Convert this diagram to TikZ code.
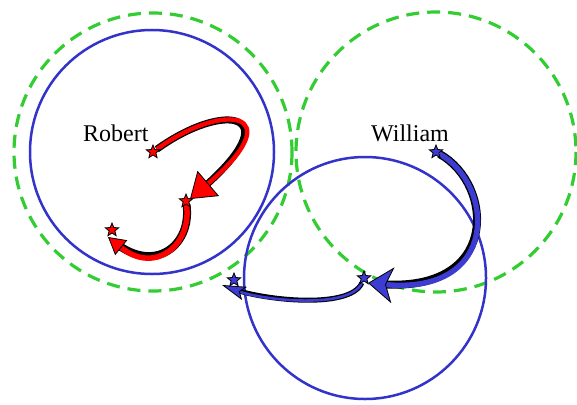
\documentclass[tikz,border=0pt]{standalone}
\usepackage{fontspec}
\setmainfont{Liberation Serif}
\usetikzlibrary{shapes.geometric,arrows.meta}
\definecolor{cgreen}{RGB}{51,204,51}
\definecolor{cblue}{RGB}{51,51,204}
\definecolor{fblue}{RGB}{60,60,210}
\tikzset{
  gcirc/.style={draw=cgreen, line width=3.2pt, dash pattern=on 13pt off 8pt},
  bcirc/.style={draw=cblue, line width=2.5pt},
  starmark/.style={star, star points=5, star point ratio=2.3, minimum size=14pt, inner sep=0pt, draw=black, line width=0.8pt},
  rstar/.style={starmark, fill=red},
  bstar/.style={starmark, fill=fblue},
  lbl/.style={font=\fontsize{24}{27}\selectfont, inner sep=0pt},
  outl/.style={draw=black, line cap=butt},
}
\begin{document}
\begin{tikzpicture}[x=1pt,y=-1pt]
\useasboundingbox (0,0) rectangle (577,404);
% circles
\draw[gcirc] (153,152) circle[radius=139];
\draw[gcirc] (436,152) circle[radius=140];
\draw[bcirc] (152,152) circle[radius=122];
\draw[bcirc] (365,278) circle[radius=121];
% arrow tip points
\coordinate (tR2) at (190,199);
\coordinate (tR3) at (108,237);
\coordinate (tW2) at (368,283);
\coordinate (tW3) at (222,285);
% star positions (named first, drawn later on top)
\path (153,152) node[starmark, draw=none, fill=none] (R1) {}
      (186,201) node[starmark, draw=none, fill=none] (R2) {}
      (112,230) node[starmark, draw=none, fill=none] (R3) {}
      (436,152) node[starmark, draw=none, fill=none] (W1) {}
      (364,278) node[starmark, draw=none, fill=none] (W2) {}
      (234,280) node[starmark, draw=none, fill=none] (W3) {};
% red arrows
\draw[outl, line width=7pt, shorten >=12pt] (R1) .. controls (225,100) and (292,112) .. (tR2);
\draw[red, line width=4.4pt, -{Triangle[length=24pt,width=33pt,fill=red,color=black,line width=0.8pt]}] (R1) .. controls (225,100) and (292,112) .. (tR2);
\draw[outl, line width=8pt, shorten >=8pt] (R2) .. controls (192,245) and (155,275) .. (tR3);
\draw[red, line width=5.5pt, -{Triangle[length=17pt,width=19pt,fill=red,color=black,line width=0.8pt]}] (R2) .. controls (192,245) and (155,275) .. (tR3);
% blue arrows
\draw[outl, line width=8pt, shorten >=10pt] (W1) .. controls (495,185) and (500,295) .. (tW2);
\draw[fblue, line width=5.4pt, -{Stealth[length=25pt,width=36pt,inset=7pt,fill=fblue,color=black,line width=0.8pt]}] (W1) .. controls (495,185) and (500,295) .. (tW2);
\draw[outl, line width=5pt, shorten >=10pt] (W2) .. controls (350,310) and (262,300) .. (tW3);
\draw[fblue, line width=2.6pt, -{Stealth[length=24pt,width=14pt,inset=5pt,fill=fblue,color=black,line width=0.8pt]}] (W2) .. controls (350,310) and (262,300) .. (tW3);
% stars on top
\node[rstar] at (R1) {};
\node[rstar] at (R2) {};
\node[rstar] at (R3) {};
\node[bstar] at (W1) {};
\node[bstar] at (W2) {};
\node[bstar] at (W3) {};
% labels
\node[lbl, anchor=base west] (lR) at (83,141) {Robert};
\node[lbl, anchor=base west] (lW) at (371,141) {William};
\end{tikzpicture}
\end{document}
